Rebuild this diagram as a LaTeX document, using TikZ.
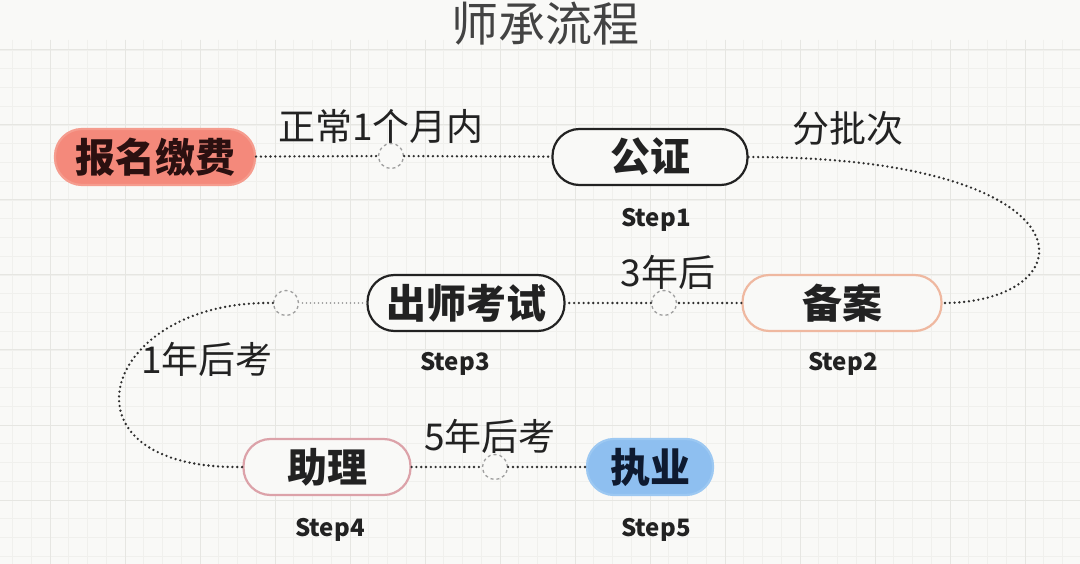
\documentclass[tikz,border=0pt]{standalone}
\usepackage{fontspec}
\setmainfont{Noto Sans CJK SC}
\usetikzlibrary{calc}
\definecolor{bgc}{HTML}{F9F9F7}
\definecolor{gridminor}{HTML}{F0F0ED}
\definecolor{gridmajor}{HTML}{E6E6E2}
\definecolor{salm}{HTML}{F4897B}
\definecolor{salmline}{HTML}{F59C8E}
\definecolor{salmtext}{HTML}{2B1010}
\definecolor{peach}{HTML}{EFB8A0}
\definecolor{pinkline}{HTML}{DCA2A9}
\definecolor{bluef}{HTML}{8EBFF0}
\definecolor{bluel}{HTML}{9CC8F2}
\definecolor{navy}{HTML}{0E1A30}
\definecolor{dotc}{HTML}{2E2E2E}
\definecolor{txt}{HTML}{222222}
\tikzset{
  pill/.style={rectangle, rounded corners=27pt, minimum height=56pt, inner sep=0pt,
    font=\fontsize{40}{44}\selectfont\bfseries, text=txt, line width=2.2pt},
  steplabel/.style={font=\fontsize{24}{26}\selectfont\bfseries, text=txt},
  edgelabel/.style={font=\fontsize{37}{40}\selectfont, text=txt},
  midcirc/.style={circle, minimum size=25pt, inner sep=0pt, draw=gray!75, dashed, line width=1.3pt, fill=bgc},
  dotline/.style={dotc, line width=2.6pt, line cap=round, dash pattern=on 0pt off 4.8pt},
  dotlight/.style={gray!85, line width=1.8pt, line cap=round, dash pattern=on 0pt off 4pt}
}
\begin{document}
\begin{tikzpicture}[x=1pt,y=-1pt]
\useasboundingbox (0,0) rectangle (1080,564);
\fill[bgc] (0,0) rectangle (1080,564);
% grid
\foreach \gx in {12.5,31.25,...,1080} \draw[gridminor, line width=0.8pt] (\gx,40) -- (\gx,564);
\foreach \gy in {50,68.75,...,564} \draw[gridminor, line width=0.8pt] (0,\gy) -- (1080,\gy);
\foreach \gx in {50,125,...,1080} \draw[gridmajor, line width=1pt] (\gx,40) -- (\gx,564);
\foreach \gy in {50,125,...,564} \draw[gridmajor, line width=1pt] (0,\gy) -- (1080,\gy);

% title
\node[font=\fontsize{47}{50}\selectfont, text=txt!85] (title) at (545,24) {师承流程};

% main nodes
\node[pill, fill=salm, draw=salmline, text=salmtext, minimum width=200pt] (bm) at (155,157) {报名缴费};
\node[pill, fill=bgc, draw=txt, minimum width=195pt] (gz) at (650,157) {公证};
\node[pill, fill=bgc, draw=peach, minimum width=199pt] (ba) at (842,303) {备案};
\node[pill, fill=bgc, draw=txt, minimum width=197pt] (cs) at (466,303) {出师考试};
\node[pill, fill=bgc, draw=pinkline, minimum width=167pt] (zl) at (327,467) {助理};
\node[pill, fill=bluef, draw=bluel, text=navy, minimum width=126pt] (zy) at (650,467) {执业};

% step labels
\node[steplabel] (s1) at (656,220) {Step1};
\node[steplabel] (s2) at (843,364) {Step2};
\node[steplabel] (s3) at (455,364) {Step3};
\node[steplabel] (s4) at (330,530) {Step4};
\node[steplabel] (s5) at (656,530) {Step5};

% mid circles
\node[midcirc] (c1) at (391,156) {};
\node[midcirc] (c2) at (664,303) {};
\node[midcirc] (c3) at (286,303) {};
\node[midcirc] (c4) at (495,467) {};

% connectors
\draw[dotline] (bm) -- (c1);
\draw[dotline] (c1) -- (gz);
\draw[dotline] (gz.east) .. controls (1100,157) and (1090,303) .. (ba.east);
\draw[dotline] (ba) -- (c2);
\draw[dotline] (c2) -- (cs);
\draw[dotlight] (cs) -- (c3);
\draw[dotline] (c3.west) .. controls (100,300) and (50,470) .. (zl.west);
\draw[dotline] (zl) -- (c4);
\draw[dotline] (c4) -- (zy);

% edge labels
\node[edgelabel] (l1) at (381,126) {正常1个月内};
\node[edgelabel] (l2) at (848,129) {分批次};
\node[edgelabel] (l3) at (668,272) {3年后};
\node[edgelabel] (l4) at (207,359) {1年后考};
\node[edgelabel] (l5) at (490,436) {5年后考};
\end{tikzpicture}
\end{document}
